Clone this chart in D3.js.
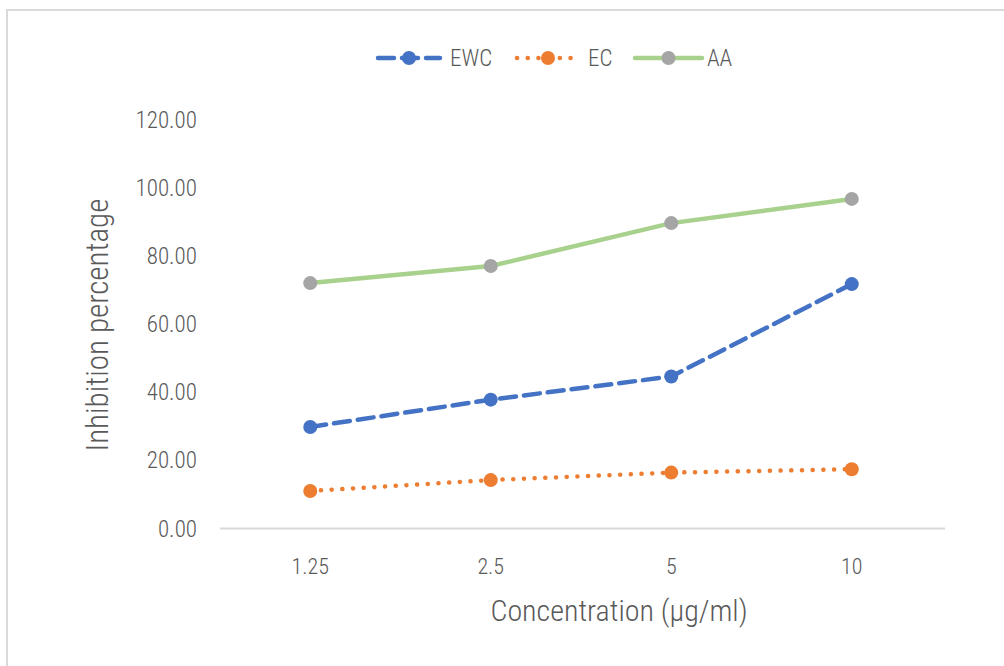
<!DOCTYPE html>
<html>
<head>
<meta charset="utf-8">
<script src="https://cdn.jsdelivr.net/npm/d3@7"></script>
<style>
  body { margin: 0; background: #fff; }
  text { font-family: "Liberation Sans Narrow", "Roboto Condensed", "Liberation Sans", sans-serif; font-weight: 300; fill: #595959; }
</style>
</head>
<body>
<svg id="chart" width="1004" height="666"></svg>
<script>
// chart data
const categories = ["1.25", "2.5", "5", "10"];
const ewc = [29.8, 37.8, 44.6, 71.7];
const ec = [11.0, 14.2, 16.4, 17.4];
const aa = [72.0, 77.0, 89.6, 96.7];
const yTicks = [0, 20, 40, 60, 80, 100, 120];

const series = [
    {name: "EWC", values: ewc, line: "#4472C4", marker: "#4472C4", dash: "16,8", width: 4.5},
    {name: "EC",  values: ec,  line: "#ED7D31", marker: "#ED7D31", dash: "0.1,10.6", width: 4.5},
    {name: "AA",  values: aa,  line: "#A9D18E", marker: "#A5A5A5", dash: null, width: 4.5}
];

const svg = d3.select("#chart");

// outer frame
svg.append("rect")
   .attr("x", 7).attr("y", 10)
   .attr("width", 1010).attr("height", 670)
   .attr("fill", "none")
   .attr("stroke", "#D9D9D9")
   .attr("stroke-width", 2);

const plotLeft = 220, plotRight = 942, plotTop = 119.5, plotBottom = 528.5;

const xScale = d3.scaleBand().domain(categories).range([plotLeft, plotRight]);
const yScale = d3.scaleLinear().domain([0, 120]).range([plotBottom, plotTop]);

// y tick labels
svg.selectAll("text.ytick")
   .data(yTicks)
   .enter()
   .append("text")
   .attr("class", "ytick")
   .attr("x", 197)
   .attr("y", d => yScale(d))
   .attr("dy", "0.35em")
   .attr("text-anchor", "end")
   .style("font-size", "23px")
   .text(d => d.toFixed(2));

// x axis line
svg.append("line")
   .attr("x1", plotLeft).attr("x2", plotRight + 3)
   .attr("y1", yScale(0)).attr("y2", yScale(0))
   .attr("stroke", "#D9D9D9")
   .attr("stroke-width", 2);

// x tick labels
svg.selectAll("text.xtick")
   .data(categories)
   .enter()
   .append("text")
   .attr("class", "xtick")
   .attr("x", d => xScale(d) + xScale.bandwidth() / 2)
   .attr("y", 566)
   .attr("dy", "0.35em")
   .attr("text-anchor", "middle")
   .style("font-size", "22px")
   .text(d => d);

// axis titles
svg.append("text")
   .attr("x", 619).attr("y", 610)
   .attr("dy", "0.35em")
   .attr("text-anchor", "middle")
   .style("font-size", "30px")
   .text("Concentration (µg/ml)");

svg.append("text")
   .attr("transform", "translate(97,325) rotate(-90)")
   .attr("dy", "0.35em")
   .attr("text-anchor", "middle")
   .style("font-size", "31px")
   .text("Inhibition percentage");

// lines and markers
const line = d3.line()
               .x((d, i) => xScale(categories[i]) + xScale.bandwidth() / 2)
               .y(d => yScale(d));

series.forEach(s => {
    svg.append("path")
       .datum(s.values)
       .attr("d", line)
       .attr("fill", "none")
       .attr("stroke", s.line)
       .attr("stroke-width", s.width)
       .attr("stroke-linecap", "round")
       .attr("stroke-dasharray", s.dash);

    svg.selectAll(null)
       .data(s.values)
       .enter()
       .append("circle")
       .attr("cx", (d, i) => xScale(categories[i]) + xScale.bandwidth() / 2)
       .attr("cy", d => yScale(d))
       .attr("r", 7)
       .attr("fill", s.marker);
});

// legend
const legendItems = [
    {s: series[0], x1: 378, x2: 440, tx: 450},
    {s: series[1], x1: 517, x2: 579, tx: 588},
    {s: series[2], x1: 635, x2: 702, tx: 707}
];
const ly = 58;

legendItems.forEach(item => {
    svg.append("line")
       .attr("x1", item.x1).attr("x2", item.x2)
       .attr("y1", ly).attr("y2", ly)
       .attr("stroke", item.s.line)
       .attr("stroke-width", item.s.width)
       .attr("stroke-linecap", "round")
       .attr("stroke-dasharray", item.s.dash);
    svg.append("circle")
       .attr("cx", (item.x1 + item.x2) / 2)
       .attr("cy", ly)
       .attr("r", 7)
       .attr("fill", item.s.marker);
    svg.append("text")
       .attr("x", item.tx)
       .attr("y", ly)
       .attr("dy", "0.35em")
       .style("font-size", "23px")
       .text(item.s.name);
});
</script>
</body>
</html>
